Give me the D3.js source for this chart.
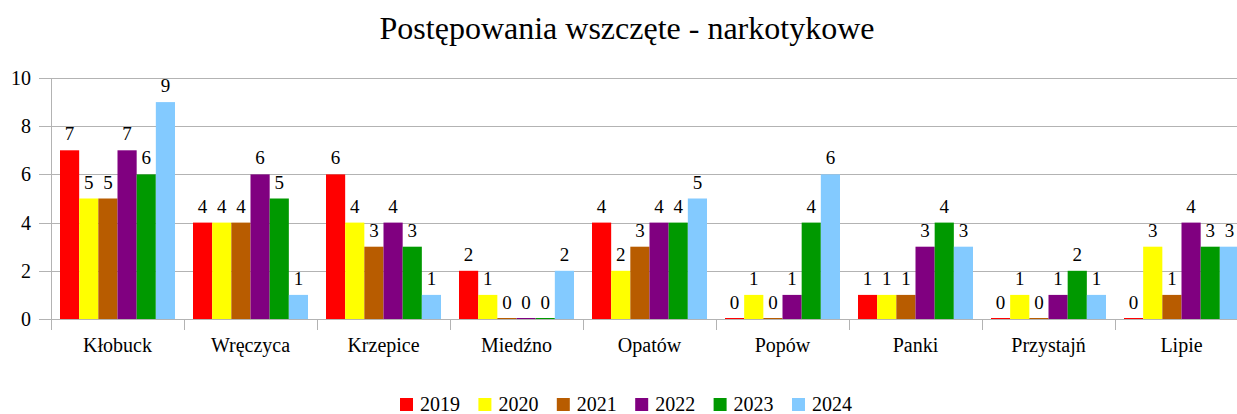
<!DOCTYPE html>
<html><head><meta charset="utf-8"><script src="https://cdn.jsdelivr.net/npm/d3@7"></script></head>
<body style="margin:0">
<svg id="fig" width="1237" height="414"></svg>
<script>
const categories = ['Kłobuck', 'Wręczyca', 'Krzepice', 'Miedźno', 'Opatów', 'Popów', 'Panki', 'Przystajń', 'Lipie'];
const years = ['2019', '2020', '2021', '2022', '2023', '2024'];
const v2019 = [7, 4, 6, 2, 4, 0, 1, 0, 0];
const v2020 = [5, 4, 4, 1, 2, 1, 1, 1, 3];
const v2021 = [5, 4, 3, 0, 3, 0, 1, 0, 1];
const v2022 = [7, 6, 4, 0, 4, 1, 3, 1, 4];
const v2023 = [6, 5, 3, 0, 4, 4, 4, 2, 3];
const v2024 = [9, 1, 1, 2, 5, 6, 3, 1, 3];
const yTicks = [0, 2, 4, 6, 8, 10];
const colors = ['#ff0000', '#ffff00', '#b85c00', '#800080', '#009900', '#83caff'];

const series = [v2019, v2020, v2021, v2022, v2023, v2024];
const FONT = "'Liberation Serif', 'Tinos', 'FreeSerif', monospace";
const svg = d3.select('#fig');
const margin = { left: 51, top: 78, bottom: 319 };
const plotRight = 51 + 133 * 9;

function txt(sel) {
  return sel.attr('font-family', FONT).style('font-family', FONT, 'important');
}

const x = d3.scaleBand()
  .domain(categories)
  .range([margin.left, plotRight])
  .paddingInner(18 / 133)
  .paddingOuter(9 / 133);

const x1 = d3.scaleBand()
  .domain(years)
  .range([0, x.bandwidth()]);

const y = d3.scaleLinear()
  .domain([0, 10])
  .range([margin.bottom, margin.top]);

// gridlines
svg.append('g')
  .selectAll('line')
  .data(yTicks)
  .enter()
  .append('line')
  .attr('x1', margin.left - 12)
  .attr('x2', plotRight)
  .attr('y1', d => Math.round(y(d)) + 0.5)
  .attr('y2', d => Math.round(y(d)) + 0.5)
  .attr('stroke', '#b3b3b3');

svg.append('g')
  .selectAll('text')
  .data(yTicks)
  .enter()
  .append('text')
  .attr('x', 31)
  .attr('y', d => y(d) + 7)
  .attr('text-anchor', 'end')
  .attr('font-size', 20)
  .call(txt)
  .text(d => d);

// y axis line
svg.append('line')
  .attr('x1', margin.left + 0.5).attr('x2', margin.left + 0.5)
  .attr('y1', margin.top).attr('y2', margin.bottom + 11)
  .attr('stroke', '#b3b3b3');

// category separators
const bounds = d3.range(1, categories.length + 1).map(i => margin.left + i * x.step());
svg.append('g')
  .selectAll('line')
  .data(bounds)
  .enter()
  .append('line')
  .attr('x1', d => Math.round(d) + 0.5)
  .attr('x2', d => Math.round(d) + 0.5)
  .attr('y1', margin.bottom)
  .attr('y2', margin.bottom + 11)
  .attr('stroke', '#b3b3b3');

svg.append('g')
  .selectAll('text')
  .data(categories)
  .enter()
  .append('text')
  .attr('x', d => x(d) + x.bandwidth() / 2)
  .attr('y', 352)
  .attr('text-anchor', 'middle')
  .attr('font-size', 20)
  .call(txt)
  .text(d => d);

// bars
const groups = svg.append('g')
  .selectAll('g')
  .data(categories)
  .enter()
  .append('g')
  .attr('transform', d => `translate(${x(d)},0)`);

groups.each(function(cat, ci) {
  const g = d3.select(this);
  years.forEach((yr, si) => {
    const val = series[si][ci];
    const h = Math.max(margin.bottom - y(val), 1);
    g.append('rect')
      .attr('x', x1(yr))
      .attr('y', margin.bottom - h)
      .attr('width', x1.bandwidth())
      .attr('height', h)
      .attr('fill', colors[si]);
    g.append('text')
      .attr('x', x1(yr) + x1.bandwidth() / 2)
      .attr('y', y(val) - 10)
      .attr('text-anchor', 'middle')
      .attr('font-size', 19)
      .attr('fill', '#000')
      .call(txt)
      .text(val);
  });
});

// title
svg.append('text')
  .attr('x', 627)
  .attr('y', 39)
  .attr('text-anchor', 'middle')
  .attr('font-size', 32)
  .call(txt)
  .text('Postępowania wszczęte - narkotykowe');

// legend
const legend = svg.append('g')
  .selectAll('g')
  .data(years)
  .enter()
  .append('g')
  .attr('transform', (d, i) => `translate(${400 + i * 78.4},398)`);

legend.append('rect')
  .attr('width', 13)
  .attr('height', 13)
  .attr('fill', (d, i) => colors[i]);

legend.append('text')
  .attr('x', 20)
  .attr('y', 13)
  .attr('font-size', 20)
  .call(txt)
  .text(d => d);
</script>
</body>
</html>
